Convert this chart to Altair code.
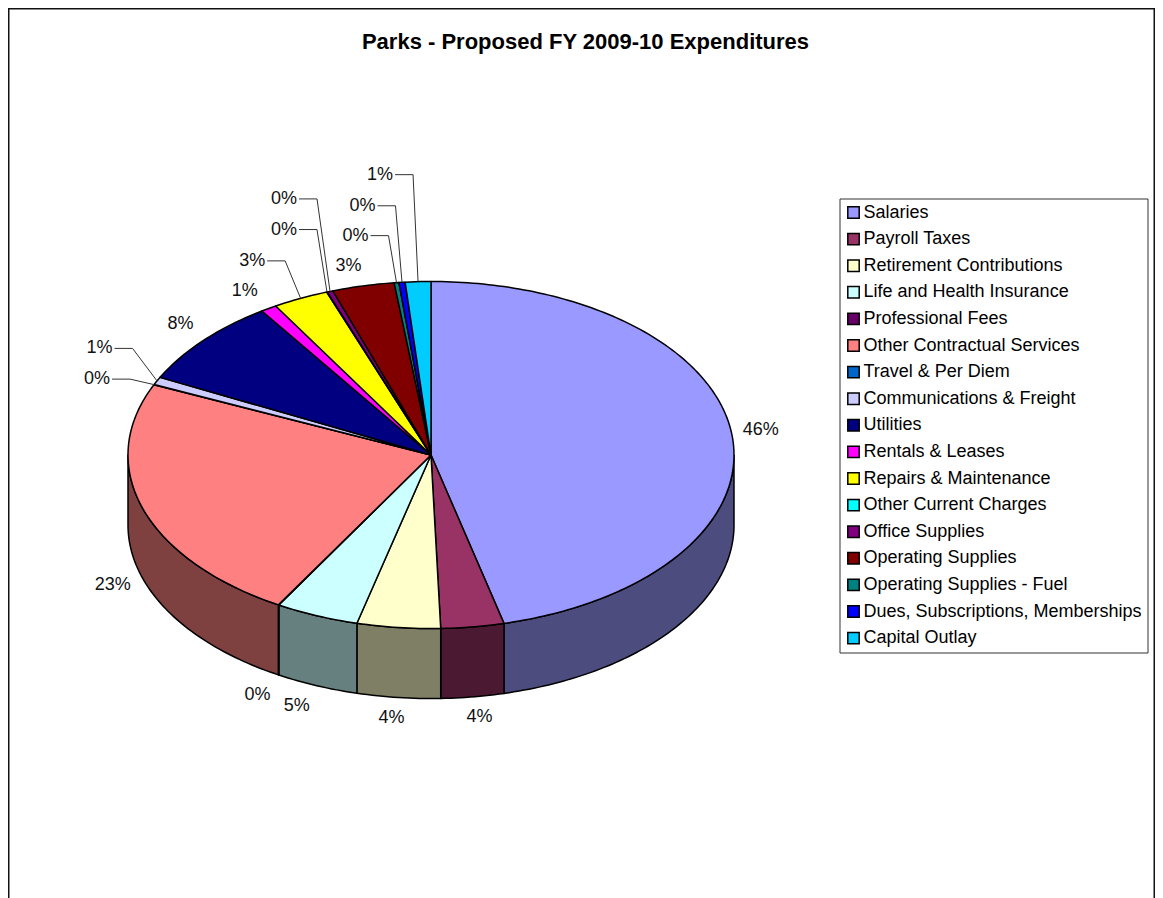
import math
import altair as alt
import pandas as pd

CATEGORIES = ["Salaries", "Payroll Taxes", "Retirement Contributions", "Life and Health Insurance",
              "Professional Fees", "Other Contractual Services", "Travel & Per Diem",
              "Communications & Freight", "Utilities", "Rentals & Leases", "Repairs & Maintenance",
              "Other Current Charges", "Office Supplies", "Operating Supplies",
              "Operating Supplies - Fuel", "Dues, Subscriptions, Memberships", "Capital Outlay"]
SHARES = [46.11, 3.36, 4.44, 4.44, 0.03, 23.22, 0.03, 0.72, 8.19, 0.86, 2.97, 0.03, 0.31, 3.31, 0.25, 0.33, 1.36]
LABELS = ["46%", "4%", "4%", "5%", "0%", "23%", "0%", "1%", "8%", "1%", "3%", "0%", "0%", "3%", "0%", "0%", "1%"]
COLORS = ["#9999FF", "#993366", "#FFFFCC", "#CCFFFF", "#660066", "#FF8080", "#0066CC", "#CCCCFF", "#000080",
          "#FF00FF", "#FFFF00", "#00FFFF", "#800080", "#800000", "#008080", "#0000FF", "#00CCFF"]
# Pixel shift of each percentage label from the rim point of its slice, and whether it has a leader line
LABEL_SHIFT = [(29, -5), (7, 89), (-7, 89.5), (-20, 89), (-21, 89), (-30, 75), (-57, -7), (-57.5, -34), (-23, -18),
               (-24, -19), (-48.5, -39), (-43, -64), (-46, -94), (-14.5, -21), (-41, -48.5), (-39.5, -78), (-38, -108.5)]
HAS_LEADER = [False, False, False, False, False, False, True, True, False, False, True, True, True, False, True, True, True]

W, H = 1147, 890
CX, CY, RX, RY, DEPTH = 423, 447, 303, 173.5, 70
FONT = "Liberation Sans"


def darken(c):
    return "#" + "".join(f"{int(c[i:i + 2], 16) // 2:02X}" for i in (1, 3, 5))


def rim(t, z=0.0):
    r = math.radians(t)
    return math.sin(r), math.cos(r) + z


total = sum(SHARES)
rows, labels, leaders = [], [], []
start = 0.0
side_rows = []
for cat, share, lab, shift, lead in zip(CATEGORIES, SHARES, LABELS, LABEL_SHIFT, HAS_LEADER):
    end = start + share / total * 360
    n = max(2, int(end - start) + 2)
    ts = [start + (end - start) * k / (n - 1) for k in range(n)]
    poly = [(0.0, 0.0)] + [rim(t) for t in ts] + [(0.0, 0.0)]
    for i, (x, y) in enumerate(poly):
        rows.append({"series": cat, "i": i, "x": x, "y": y})
    a, b = max(start, 90), min(end, 270)
    if a < b:
        m = max(2, int(b - a) + 2)
        tt = [a + (b - a) * k / (m - 1) for k in range(m)]
        z = -DEPTH / RY
        poly = [rim(t) for t in tt] + [rim(t, z) for t in reversed(tt)]
        poly.append(poly[0])
        for i, (x, y) in enumerate(poly):
            side_rows.append({"series": cat + " (side)", "i": i, "x": x, "y": y})
    mid = (start + end) / 2
    mx, my = rim(mid)
    lx, ly = mx + shift[0] / RX, my - (shift[1] + 1.5) / RY
    labels.append({"x": lx, "y": ly, "text": lab})
    if lead:
        half = 15 / RX
        for i, (x, y) in enumerate([(lx + half, ly), (lx + half + 18 / RX, ly), (mx, my)]):
            leaders.append({"series": cat, "i": i, "x": x, "y": y})
    start = end

x_scale = alt.Scale(domain=[-CX / RX, (W - CX) / RX], nice=False, zero=False)
y_scale = alt.Scale(domain=[(CY - H) / RY, CY / RY], nice=False, zero=False)
X = alt.X("x:Q", scale=x_scale, axis=None)
Y = alt.Y("y:Q", scale=y_scale, axis=None)

domain = CATEGORIES + [c + " (side)" for c in CATEGORIES]
rng = COLORS + [darken(c) for c in COLORS]

frame = alt.Chart(pd.DataFrame({"a": [0]})).mark_rule(color="#111111", strokeWidth=1.5).encode(
    x=alt.value(0.75), y=alt.value(0), y2=alt.value(H))
frame_r = alt.Chart(pd.DataFrame({"a": [0]})).mark_rule(color="#111111", strokeWidth=1.5).encode(
    x=alt.value(W - 0.75), y=alt.value(0), y2=alt.value(H))
frame_t = alt.Chart(pd.DataFrame({"a": [0]})).mark_rule(color="#111111", strokeWidth=1.5).encode(
    y=alt.value(0.75), x=alt.value(0), x2=alt.value(W))

slices = alt.Chart(pd.DataFrame(side_rows + rows)).mark_line(
    stroke="black", strokeWidth=1.5, strokeJoin="round", filled=False).encode(
    x=X, y=Y, order="i:Q",
    fill=alt.Fill("series:N", sort=None, scale=alt.Scale(domain=domain, range=rng),
                  legend=alt.Legend(values=CATEGORIES, title=None, orient="none", legendX=831.5, legendY=190.5,
                                    fillColor="white", strokeColor="#333333", padding=5,
                                    symbolType="square", symbolSize=130, symbolStrokeColor="black",
                                    symbolStrokeWidth=1.5, labelFont=FONT, labelFontSize=18, labelColor="black",
                                    labelLimit=400, rowPadding=8.6, labelOffset=1, symbolOpacity=1)))

lead = alt.Chart(pd.DataFrame(leaders)).mark_line(color="#333333", strokeWidth=1).encode(
    x=X, y=Y, order="i:Q", detail="series:N")
text = alt.Chart(pd.DataFrame(labels)).mark_text(font=FONT, fontSize=18, color="#111111").encode(
    x=X, y=Y, text="text:N")

chart = alt.layer(frame, frame_r, frame_t, slices, lead, text).properties(
    width=W, height=H, padding=0, autosize=alt.AutoSizeParams(type="none"),
    title=alt.TitleParams("Parks - Proposed FY 2009-10 Expenditures", font=FONT, fontSize=22, fontWeight="bold",
                          color="black", anchor="middle", offset=-57, frame="group", baseline="middle", dx=4)
).configure_view(stroke=None)

chart.save("out.html", embed_options={"renderer": "svg", "actions": False})
